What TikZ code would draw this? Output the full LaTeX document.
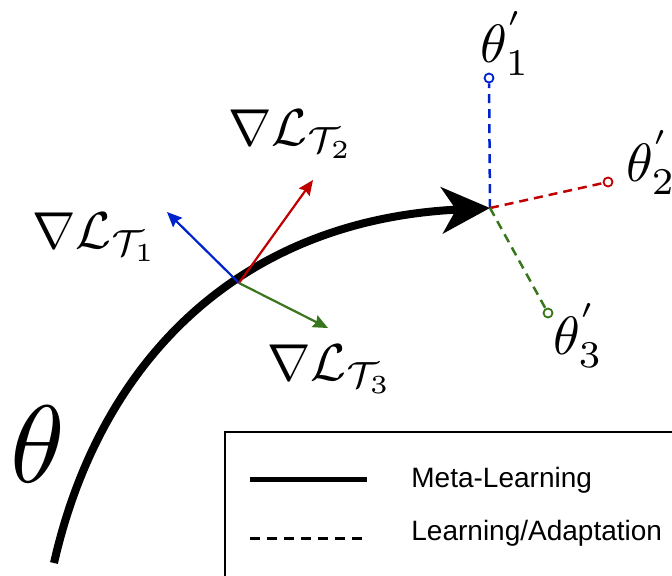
\documentclass[tikz,border=0pt]{standalone}
\usepackage{amssymb, amsmath}
\usepackage{fontspec}
\usepackage{tikz}
\usetikzlibrary{arrows.meta}
\newfontfamily\legendfont{Liberation Sans}
\definecolor{gradblue}{RGB}{0, 34, 204}
\definecolor{gradred}{RGB}{192, 0, 0}
\definecolor{gradgreen}{RGB}{56, 118, 29}
\newcommand{\bigmath}[2]{\scalebox{#1}{$#2$}}

\begin{document}
\begin{tikzpicture}[x=0.5pt, y=-0.5pt,
  meta/.style={line width=4pt, -{Stealth[length=24pt, width=23pt, inset=7pt]}},
  grad/.style={line width=1.1pt, -{Stealth[length=7.5pt, width=6.5pt, inset=1pt]}},
  adapt/.style={line width=1.25pt, dash pattern=on 4.5pt off 3pt},
  endpt/.style={circle, draw=#1, fill=white, line width=0.9pt, inner sep=0pt, minimum size=4.5pt},
  label/.style={inner sep=0pt, anchor=base west},
  legendtext/.style={inner sep=0pt, anchor=base west, font=\legendfont\fontsize{14}{16}\selectfont}]

  \useasboundingbox (0, 0) rectangle (672, 575);

  % meta-learning path
  \coordinate (start) at (54, 563);
  \coordinate (hub) at (490, 208);
  \coordinate (grad) at (239, 283);
  \draw[meta] (start) .. controls (100, 360) and (240, 220) .. (hub);
  \node[label] (theta) at (10, 482) { \bigmath{5.5}{\theta} };

  % task gradients
  \coordinate (g1) at (167, 212);
  \coordinate (g2) at (313, 180);
  \coordinate (g3) at (328, 328);
  \draw[grad, gradblue] (grad) -- (g1);
  \draw[grad, gradred] (grad) -- (g2);
  \draw[grad, gradgreen] (grad) -- (g3);
  \node[label] (l1) at (32, 248) { \bigmath{2.6}{\nabla\mathcal{L}_{\mathcal{T}_1}} };
  \node[label] (l2) at (228, 145) { \bigmath{2.6}{\nabla\mathcal{L}_{\mathcal{T}_2}} };
  \node[label] (l3) at (267, 380) { \bigmath{2.6}{\nabla\mathcal{L}_{\mathcal{T}_3}} };

  % adapted parameters
  \node[endpt=gradblue] (p1) at (489, 78) {};
  \node[endpt=gradred] (p2) at (608, 182) {};
  \node[endpt=gradgreen] (p3) at (548, 313) {};
  \draw[adapt, gradblue] (hub) -- (p1);
  \draw[adapt, gradred] (hub) -- (p2);
  \draw[adapt, gradgreen] (hub) -- (p3);
  \node[label] (t1) at (480, 62) { \bigmath{2.7}{\theta^{'}_{1}} };
  \node[label] (t2) at (626, 181) { \bigmath{2.7}{\theta^{'}_{2}} };
  \node[label] (t3) at (553, 354) { \bigmath{2.7}{\theta^{'}_{3}} };

  % legend
  \begin{scope}
    \clip (0, 0) rectangle (672, 575);
    \draw[line width=0.75pt] (225, 432) rectangle (700, 600);
  \end{scope}
  \coordinate (sa) at (250, 479);
  \coordinate (sb) at (367, 479);
  \coordinate (da) at (250, 538);
  \coordinate (db) at (367, 538);
  \draw[line width=2.5pt] (sa) -- (sb);
  \draw[line width=1.5pt, dash pattern=on 5pt off 3.5pt] (da) -- (db);
  \node[legendtext] (meta) at (411, 487) {Meta-Learning};
  \node[legendtext] (adapt) at (411, 540) {Learning/Adaptation};

\end{tikzpicture}
\end{document}
